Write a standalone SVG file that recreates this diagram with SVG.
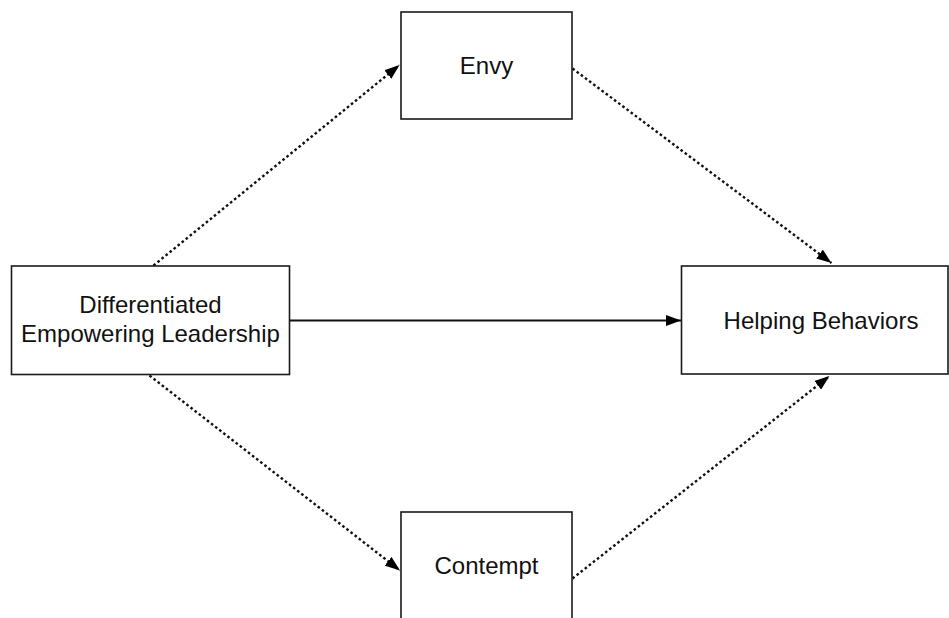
<svg xmlns="http://www.w3.org/2000/svg" width="949" height="618" viewBox="0 0 949 618">
<defs>
<style>
.box{fill:#fff;stroke:#1a1a1a;stroke-width:1.6}
.lbl{font-family:"Liberation Sans",Arial,sans-serif;font-size:24px;fill:#111;text-anchor:middle}
.dot{fill:none;stroke:#111;stroke-width:2.4;stroke-dasharray:2.6 2.6}
.sol{fill:none;stroke:#111;stroke-width:1.8}
</style>
<marker id="ah" viewBox="0 0 15 11" refX="15" refY="5.5" markerWidth="15" markerHeight="11" markerUnits="userSpaceOnUse" orient="auto">
<path d="M0,0 L15,5.5 L0,11 Z" fill="#000"/>
</marker>
</defs>
<rect width="949" height="618" fill="#fff"/>
<g id="connectors">
<line class="dot" x1="153.5" y1="265.5" x2="399.5" y2="65" marker-end="url(#ah)"/>
<line class="dot" x1="572.5" y1="68.5" x2="831.5" y2="263" marker-end="url(#ah)"/>
<line class="dot" x1="149.5" y1="375.5" x2="400" y2="570.5" marker-end="url(#ah)"/>
<line class="dot" x1="572.5" y1="578.5" x2="829.5" y2="376" marker-end="url(#ah)"/>
<line class="sol" x1="289.5" y1="320.5" x2="681" y2="320.5" marker-end="url(#ah)"/>
</g>
<g id="envy">
<rect class="box" x="401" y="12" width="171" height="107"/>
<text class="lbl" x="486.5" y="73.5">Envy</text>
</g>
<g id="del">
<rect class="box" x="11.5" y="266" width="278" height="108.5"/>
<text class="lbl" x="150.5" y="313">Differentiated</text>
<text class="lbl" x="150.5" y="342">Empowering Leadership</text>
</g>
<g id="helping">
<rect class="box" x="681.5" y="266" width="266.5" height="108"/>
<text class="lbl" x="821" y="329">Helping Behaviors</text>
</g>
<g id="contempt">
<rect class="box" x="401" y="512" width="171" height="120"/>
<text class="lbl" x="486.5" y="573.5">Contempt</text>
</g>
</svg>
